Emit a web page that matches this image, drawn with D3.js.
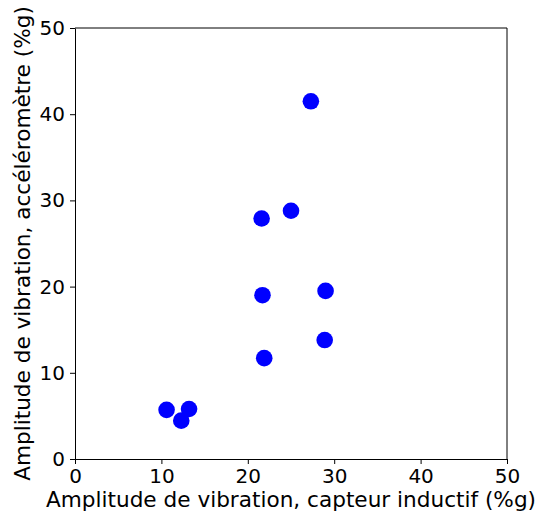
<!DOCTYPE html>
<html>
<head>
<meta charset="utf-8">
<script src="https://cdn.jsdelivr.net/npm/d3@7"></script>
<style>
  body { margin: 0; background: #fff; }
  text { font-family: "DejaVu Sans", sans-serif; }
</style>
</head>
<body>
<div id="plot"></div>
<script>
var margin = {top: 28, right: 34, bottom: 55, left: 75}
  , width = 541 - margin.left - margin.right
  , height = 514 - margin.top - margin.bottom;

// capteur inductif (%g)
var xdata = [27.3, 21.6, 25.0, 21.7, 29.0, 28.9, 21.9, 10.6, 12.3, 13.2]
// accelerometre (%g)
var ydata = [41.5, 27.9, 28.8, 19.0, 19.5, 13.8, 11.7, 5.7, 4.45, 5.8]

var ticks = [0, 10, 20, 30, 40, 50]
var xLabel = "Amplitude de vibration, capteur inductif (%g)"
var yLabel = "Amplitude de vibration, accéléromètre (%g)"

var xScale = d3.scaleLinear()
  .domain([0, 50])
  .range([0, width])

var yScale = d3.scaleLinear()
  .domain([0, 50])
  .range([height, 0])

var svg = d3.select("#plot")
  .append("svg")
    .attr("width", 541)
    .attr("height", 514)
  .append("g")
    .attr("transform", "translate(" + margin.left + "," + margin.top + ")")

svg.selectAll(".dot")
  .data(ydata)
  .enter()
  .append("circle")
  .attr("class", "dot")
  .attr("cx", (d, i) => xScale(xdata[i]))
  .attr("cy", d => yScale(d))
  .attr("r", 8.3)
  .attr("fill", "#0000ff")

var xAxis = svg.append("g")
  .attr("transform", "translate(0," + height + ")")
  .call(d3.axisBottom(xScale).tickValues(ticks).tickSize(5).tickPadding(5).tickSizeOuter(0))

var yAxis = svg.append("g")
  .call(d3.axisLeft(yScale).tickValues(ticks).tickSize(5).tickPadding(5).tickSizeOuter(0))

// frame on the other two sides
svg.append("path")
  .attr("d", "M0,0H" + width + "V" + height)
  .attr("fill", "none")
  .attr("stroke", "#000")

svg.selectAll(".tick text")
  .attr("font-size", 20)
  .attr("font-family", "DejaVu Sans")
  .attr("fill", "#000")

svg.append("text")
  .attr("x", width / 2)
  .attr("y", height + 48)
  .attr("text-anchor", "middle")
  .attr("font-size", 21.6)
  .text(xLabel)

svg.append("text")
  .attr("transform", "translate(-45.5," + height / 2 + ") rotate(-90)")
  .attr("text-anchor", "middle")
  .attr("font-size", 21.6)
  .text(yLabel)
</script>
</body>
</html>
